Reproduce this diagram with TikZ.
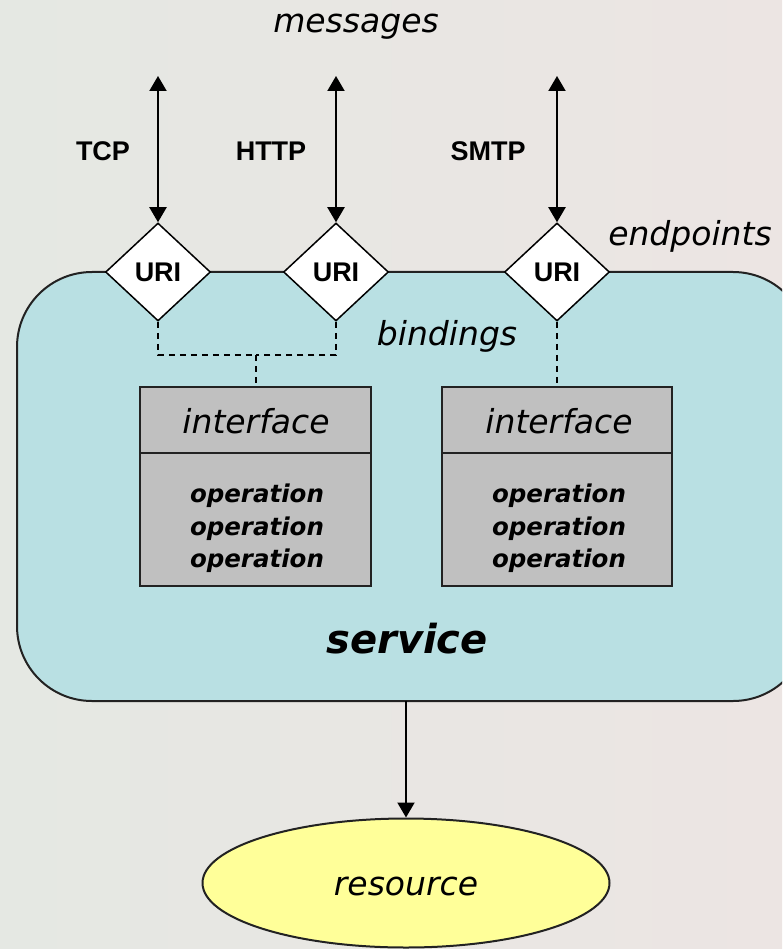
\documentclass[tikz,border=0pt]{standalone}
\usepackage{fontspec}
\setmainfont{DejaVu Sans}
\newfontfamily\lblfont{Liberation Sans}
\usetikzlibrary{shapes.geometric,arrows.meta}
\definecolor{svcfill}{HTML}{B9E0E3}
\definecolor{ifill}{HTML}{C0C0C0}
\definecolor{resfill}{HTML}{FFFF99}
\definecolor{bgL}{HTML}{E5E8E3}
\definecolor{bgR}{HTML}{ECE5E3}
\definecolor{edge}{HTML}{222222}
\tikzset{
  uri/.style={diamond,draw=black,line width=1.5pt,fill=white,inner sep=0pt,minimum width=105pt,minimum height=98pt,font=\lblfont\bfseries\fontsize{27}{30}\selectfont},
  proto/.style={anchor=base,font=\lblfont\bfseries\fontsize{27}{30}\selectfont},
  itlab/.style={anchor=base,font=\itshape\fontsize{33}{40}\selectfont},
  oplab/.style={anchor=base,font=\bfseries\itshape\fontsize{24.5}{30}\selectfont},
  ibox/.style={draw=edge,line width=2pt,fill=ifill},
  tip/.tip={Triangle[width=17pt,length=15pt]},
  msg/.style={line width=2pt,tip-tip},
  bind/.style={line width=1.6pt,dash pattern=on 6pt off 5pt},
}
\begin{document}
\begin{tikzpicture}[x=1pt,y=-1pt]
\useasboundingbox (0,0) rectangle (782,949);
\shade[left color=bgL,right color=bgR] (0,0) rectangle (782,949);
\begin{scope}
\clip (0,0) rectangle (782,949);
% service box
\draw[draw=edge,line width=2pt,fill=svcfill,rounded corners=75pt] (17,272) rectangle (808,701);
\end{scope}
\node[itlab,font=\bfseries\itshape\fontsize{40}{48}\selectfont] (svc) at (407,653) {service};
% endpoints
\node[uri] (u1) at (158,272) {URI};
\node[uri] (u2) at (336,272) {URI};
\node[uri] (u3) at (557,272) {URI};
% message arrows
\coordinate (m1) at (158,76);
\coordinate (m2) at (336,76);
\coordinate (m3) at (557,76);
\draw[msg] (m1) -- (u1.north);
\draw[msg] (m2) -- (u2.north);
\draw[msg] (m3) -- (u3.north);
% labels
\node[itlab] (lmsg) at (356,33) {messages};
\node[itlab] (lend) at (690,246) {endpoints};
\node[itlab] (lbind) at (447,345) {bindings};
\node[proto] (ltcp) at (103,161) {TCP};
\node[proto] (lhttp) at (271,161) {HTTP};
\node[proto] (lsmtp) at (488,161) {SMTP};
% interface boxes
\draw[ibox] (140,387) rectangle (371,586);
\draw[edge,line width=2pt] (140,453) -- (371,453);
\draw[ibox] (442,387) rectangle (672,586);
\draw[edge,line width=2pt] (442,453) -- (672,453);
\coordinate (i1top) at (256,387);
\coordinate (i2top) at (557,387);
\node[itlab] (if1) at (256,433) {interface};
\node[itlab] (if2) at (559,433) {interface};
\node[oplab] (o11) at (257,502) {operation};
\node[oplab] (o12) at (257,535) {operation};
\node[oplab] (o13) at (257,567) {operation};
\node[oplab] (o21) at (559,502) {operation};
\node[oplab] (o22) at (559,535) {operation};
\node[oplab] (o23) at (559,567) {operation};
% bindings
\coordinate (bj) at (256,355);
\draw[bind] (u1.south) |- (bj);
\draw[bind] (u2.south) |- (bj);
\draw[bind] (bj) -- (i1top);
\draw[bind] (u3.south) -- (i2top);
% resource
\node[ellipse,draw=edge,line width=2pt,fill=resfill,minimum width=407pt,minimum height=129pt,inner sep=0pt] (res) at (406,883) {};
\node[itlab] (lres) at (406,895) {resource};
\coordinate (sb) at (406,701);
\draw[line width=2pt,-tip] (sb) -- (res.north);
\end{tikzpicture}
\end{document}
